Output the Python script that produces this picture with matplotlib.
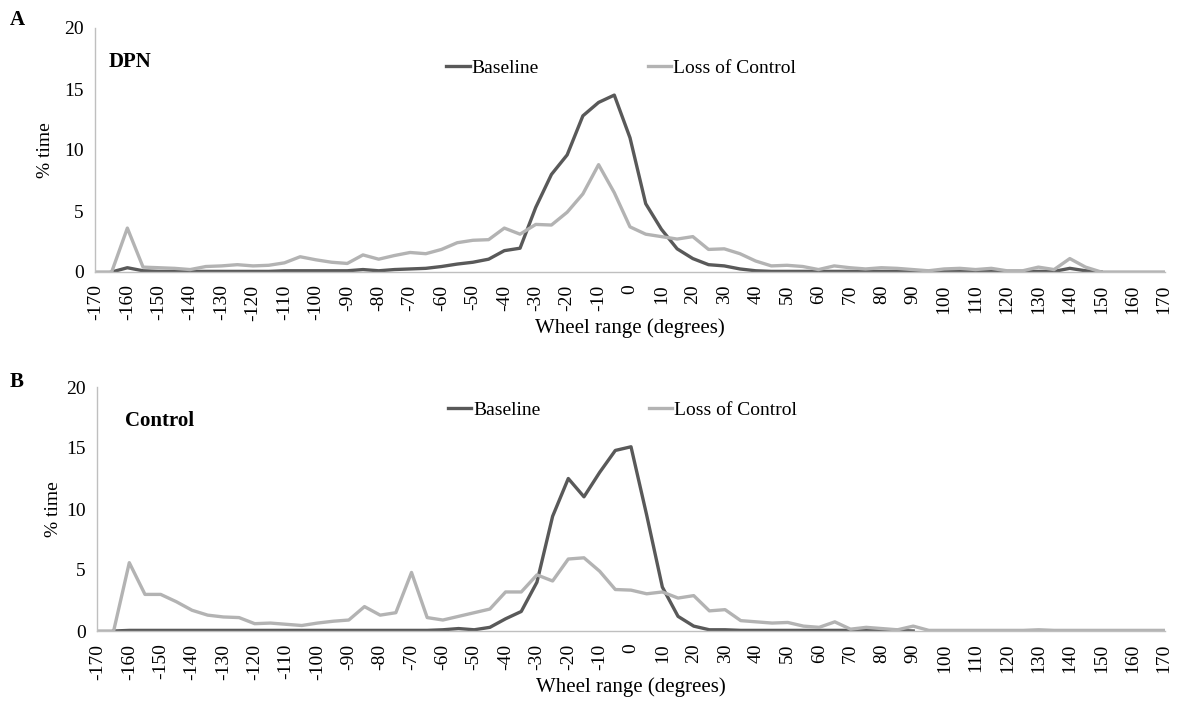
import numpy as np
import matplotlib
matplotlib.use('Agg')
import matplotlib.pyplot as plt

plt.rcParams['font.family'] = ['Liberation Serif', 'DejaVu Serif']

nan = np.nan
angles = list(range(-170, 175, 5))

dpn_baseline = [nan, 0.0, 0.35, 0.1, 0.05, 0.05, 0.05, 0.05, 0.05, 0.05,
                0.05, 0.05, 0.1, 0.1, 0.1, 0.1, 0.1, 0.2, 0.1, 0.2,
                0.25, 0.3, 0.45, 0.65, 0.8, 1.05, 1.75, 1.95, 5.3, 8.0,
                9.6, 12.8, 13.9, 14.5, 11.0, 5.6, 3.5, 1.9, 1.1, 0.6,
                0.5, 0.25, 0.1, 0.05, 0.05, 0.05, 0.05, 0.05, 0.05, 0.05,
                0.05, 0.05, 0.05, 0.05, 0.05, 0.05, 0.05, 0.05, 0.05, 0.05,
                0.05, 0.05, 0.3, 0.1, 0.0, nan, nan, nan, nan]
dpn_loss = [0.0, 0.0, 3.6, 0.4, 0.35, 0.3, 0.2, 0.45, 0.5, 0.6,
            0.5, 0.55, 0.75, 1.25, 1.0, 0.8, 0.7, 1.4, 1.05, 1.35,
            1.6, 1.5, 1.85, 2.4, 2.6, 2.65, 3.6, 3.1, 3.9, 3.85,
            4.9, 6.4, 8.8, 6.5, 3.7, 3.1, 2.9, 2.7, 2.9, 1.85,
            1.9, 1.5, 0.9, 0.5, 0.55, 0.45, 0.2, 0.5, 0.35, 0.25,
            0.35, 0.3, 0.2, 0.1, 0.25, 0.3, 0.2, 0.3, 0.1, 0.1,
            0.4, 0.2, 1.1, 0.4, 0.0, 0.0, 0.0, 0.0, 0.0]

ctrl_baseline = [nan, 0.0, 0.05, 0.05, 0.05, 0.05, 0.05, 0.05, 0.05, 0.05,
                 0.05, 0.05, 0.05, 0.05, 0.05, 0.05, 0.05, 0.05, 0.05, 0.05,
                 0.05, 0.05, 0.1, 0.2, 0.1, 0.3, 1.0, 1.6, 4.0, 9.4,
                 12.5, 11.0, 13.0, 14.8, 15.1, 9.5, 3.6, 1.2, 0.4, 0.1,
                 0.1, 0.05, 0.05, 0.05, 0.05, 0.05, 0.05, 0.05, 0.05, 0.05,
                 0.05, 0.05, 0.0, nan, nan, nan, nan, nan, nan, nan,
                 nan, nan, nan, nan, nan, nan, nan, nan, nan]
ctrl_loss = [0.0, 0.0, 5.6, 3.0, 3.0, 2.4, 1.7, 1.3, 1.15, 1.1,
             0.6, 0.65, 0.55, 0.45, 0.65, 0.8, 0.9, 2.0, 1.3, 1.5,
             4.8, 1.1, 0.9, 1.2, 1.5, 1.8, 3.2, 3.2, 4.6, 4.1,
             5.9, 6.0, 4.9, 3.4, 3.35, 3.05, 3.2, 2.7, 2.9, 1.65,
             1.75, 0.85, 0.75, 0.65, 0.7, 0.4, 0.3, 0.75, 0.15, 0.3,
             0.2, 0.1, 0.4, 0.05, 0.05, 0.05, 0.05, 0.05, 0.05, 0.05,
             0.1, 0.05, 0.05, 0.05, 0.05, 0.05, 0.05, 0.05, 0.05]

tick_angles = list(range(-170, 180, 10))

panels = [
    ('A', 'DPN', dpn_baseline, dpn_loss,
     [95/1178, 1-272/701, 1070/1178, 244/701], 0.013, 0.86, 0.835, 0.038),
    ('B', 'Control', ctrl_baseline, ctrl_loss,
     [97/1178, 1-631/701, 1068/1178, 244/701], 0.026, 0.86, 0.905, 0.033),
]

fig = plt.figure(figsize=(11.78, 7.01), dpi=100)

for letter, name, base, loss, rect, nx, ny, legy, ylx in panels:
    ax = fig.add_axes(rect)
    ax.plot(angles, base, color='#595959', lw=2.4, label='Baseline')
    ax.plot(angles, loss, color='#b3b3b3', lw=2.4, label='Loss of Control')
    ax.set_xlim(-170.3, 170.3)
    ax.set_ylim(0, 20)
    ax.set_yticks([0, 5, 10, 15, 20])
    ax.set_xticks(tick_angles)
    ax.set_xticklabels([str(t) for t in tick_angles], rotation=90)
    ax.tick_params(axis='both', length=0, labelsize=14)
    ax.tick_params(axis='x', pad=9)
    ax.tick_params(axis='y', pad=8)
    for s in ['top', 'right']:
        ax.spines[s].set_visible(False)
    for s in ['left', 'bottom']:
        ax.spines[s].set_color('#bfbfbf')
        ax.spines[s].set_linewidth(1.0)
    ax.set_xlabel('Wheel range (degrees)', fontsize=15)
    ax.xaxis.set_label_coords(0.5, -0.19)
    ax.set_ylabel('% time', fontsize=14)
    ax.yaxis.set_label_coords(-ylx, 0.5)
    ax.text(nx, ny, name, transform=ax.transAxes, fontsize=15,
            fontweight='bold', va='center')
    ax.legend(loc='center left', bbox_to_anchor=(0.312, legy),
              ncol=2, frameon=False, fontsize=14, handlelength=1.2,
              handletextpad=0.1, columnspacing=5.6)

fig.text(10/1178, 1-20/701, 'A', fontsize=15, fontweight='bold', va='center')
fig.text(10/1178, 1-382/701, 'B', fontsize=15, fontweight='bold', va='center')

fig.savefig('out.png', dpi=100)
